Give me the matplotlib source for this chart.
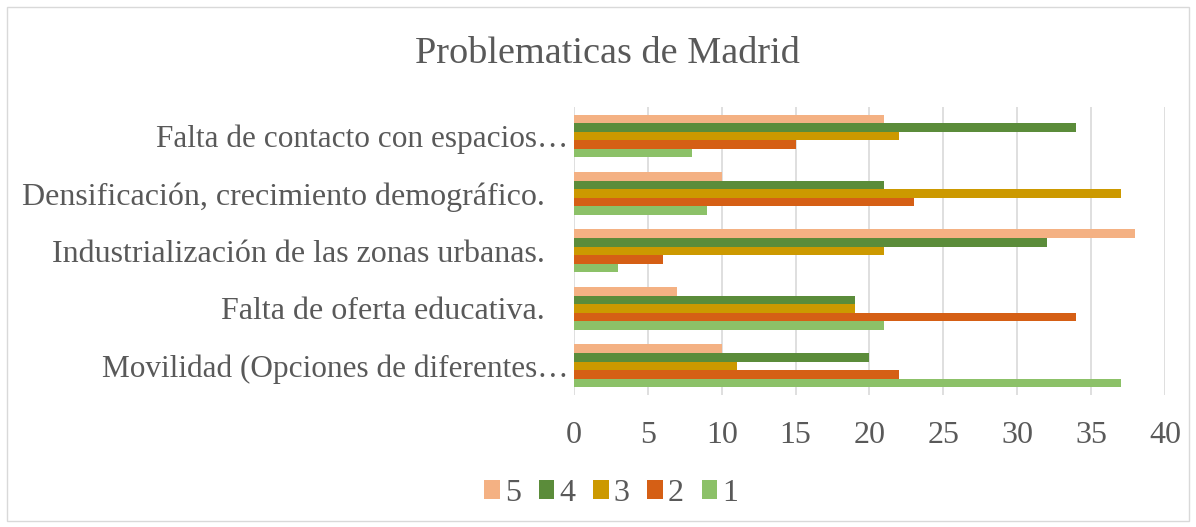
import matplotlib
matplotlib.use("Agg")
import matplotlib.pyplot as plt
from matplotlib.patches import Rectangle
import numpy as np

plt.rcParams['font.family'] = ['Liberation Serif', 'DejaVu Serif']

categorias = ['Movilidad (Opciones de diferentes…',
              'Falta de oferta educativa.   ',
              'Industrialización de las zonas urbanas.   ',
              'Densificación, crecimiento demográfico.   ',
              'Falta de contacto con espacios…']
series = ['5', '4', '3', '2', '1']
s5 = [10, 7, 38, 10, 21]
s4 = [20, 19, 32, 21, 34]
s3 = [11, 19, 21, 37, 22]
s2 = [22, 34, 6, 23, 15]
s1 = [37, 21, 3, 9, 8]
colores = ['#F4B183', '#5B8C3A', '#CC9900', '#D55F15', '#8CC168']
ticks_x = [0, 5, 10, 15, 20, 25, 30, 35, 40]

gris = '#595959'
fig = plt.figure(figsize=(11.96, 5.27), dpi=100)
ax = fig.add_axes([0.48, 0.2514, 0.494, 0.5455])

y = np.arange(len(categorias))
h = 0.148
valores = [s5, s4, s3, s2, s1]
for i, (nom, vals, c) in enumerate(zip(series, valores, colores)):
    off = (2 - i) * h
    ax.barh(y + off, vals, height=h, color=c, label=nom, zorder=3)

ax.set_xlim(0, 40)
ax.set_ylim(-0.5, 4.5)
ax.set_xticks(ticks_x)
ax.set_yticks(y)
ax.set_yticklabels(categorias)
ax.tick_params(axis='both', length=0, labelsize=23, colors=gris)
ax.tick_params(axis='x', pad=19)
ax.tick_params(axis='y', pad=4)
# las etiquetas recortadas se ven algo mas estrechas en el original
for t in ax.get_yticklabels():
    if t.get_text().endswith('…'):
        t.set_fontsize(22.5)
ax.grid(axis='x', color='#D9D9D9', linewidth=1.2, zorder=0)
for sp in ax.spines.values():
    sp.set_visible(False)

fig.suptitle('Problematicas de Madrid', x=0.508, y=0.93, fontsize=27.5, color=gris)

ax.legend(loc='center', bbox_to_anchor=(0.511, 0.064), bbox_transform=fig.transFigure,
          ncol=5, frameon=False, fontsize=23, labelcolor=gris,
          handlelength=0.5, handleheight=0.5, handletextpad=0.15, columnspacing=0.55)

fig.patches.append(Rectangle((0.006, 0.012), 0.988, 0.975, transform=fig.transFigure,
                             fill=False, edgecolor='#D9D9D9', linewidth=1))

fig.savefig('out.png', dpi=100)
plt.close(fig)
